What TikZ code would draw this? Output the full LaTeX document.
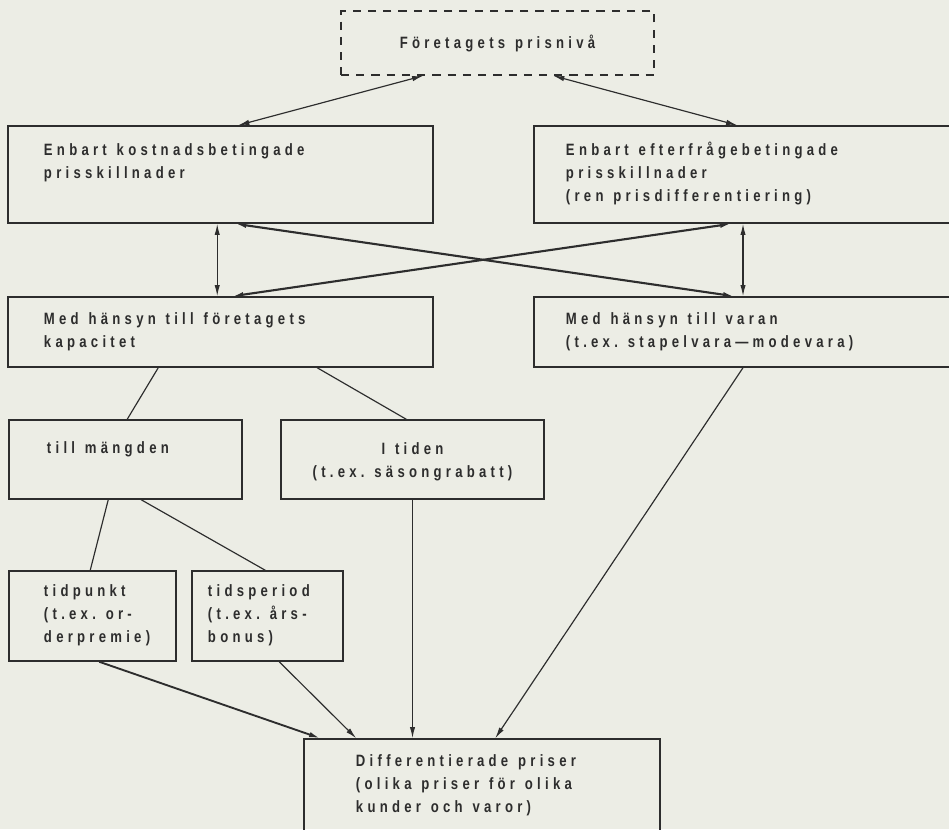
\documentclass[tikz,border=0pt]{standalone}
\usepackage{fontspec}
\usetikzlibrary{calc,arrows.meta}
\newfontfamily\scanfont{Liberation Sans}[UprightFont={* Bold},FakeStretch=0.8,LetterSpace=26,WordSpace=1.6]

\definecolor{paper}{RGB}{236,237,229}
\definecolor{ink}{RGB}{45,45,45}

\tikzset{
  box/.style={draw=ink,line width=1.3pt,rectangle,inner ysep=0pt,align=left,
    execute at begin node={\spaceskip=0.6em\relax\xspaceskip=0.6em\relax}},
  link/.style={draw=ink,line width=1pt},
  dbl/.style={link,{Latex[length=9.5pt,width=4.5pt]}-{Latex[length=9.5pt,width=4.5pt]}},
  dblthick/.style={dbl,line width=1.8pt},
  to/.style={link,-{Latex[length=9.5pt,width=4.5pt]}},
}

\begin{document}
\begin{tikzpicture}[x=0.03cm,y=-0.03cm,text=ink,
  font=\scanfont\fontsize{14}{20}\selectfont]

% Paper
\useasboundingbox (0,0) rectangle (949,829);
\fill[paper] (0,0) rectangle (949,829);

% Top level
\node[box,dashed,dash pattern=on 7pt off 6pt,inner sep=0pt,
  minimum width=9.39cm,minimum height=1.92cm] (top) at (497.5,43) {Företagets prisnivå};

% Second level
\node[box,inner xsep=1.08cm,text width=10.59cm,text height=0.87cm,text depth=2.04cm]
  (kost) at (220.5,174.5) {Enbart kostnadsbetingade\\prisskillnader};
\node[box,inner xsep=0.96cm,text width=10.62cm,text height=0.87cm,text depth=2.04cm]
  (efter) at (743,174.5) {Enbart efterfrågebetingade\\prisskillnader\\(ren prisdifferentiering)};

% Third level
\node[box,inner xsep=1.08cm,text width=10.59cm,text height=0.81cm,text depth=1.29cm]
  (kap) at (220.5,332) {Med hänsyn till företagets\\kapacitet};
\node[box,inner xsep=0.96cm,text width=10.62cm,text height=0.81cm,text depth=1.29cm]
  (varan) at (743,332) {Med hänsyn till varan\\(t.ex. stapelvara—modevara)};

% Capacity branches
\node[box,inner xsep=1.14cm,text width=4.71cm,text height=0.99cm,text depth=1.38cm]
  (mangd) at (125.5,459.5) {till mängden};
\node[box,align=center,inner xsep=0.3cm,text width=7.29cm,text height=1.02cm,text depth=1.35cm]
  (tiden) at (412.5,459.5) {I tiden\\(t.ex. säsongrabatt)};
\node[box,inner xsep=1.05cm,text width=2.91cm,text height=0.75cm,text depth=1.95cm]
  (punkt) at (92.5,616) {tidpunkt\\(t.ex. or-\\derpremie)};
\node[box,inner xsep=0.48cm,text width=3.57cm,text height=0.75cm,text depth=1.95cm]
  (period) at (267.5,616) {tidsperiod\\(t.ex. års-\\bonus)};

% Result
\node[box,inner xsep=1.56cm,text width=7.56cm,text height=0.81cm,text depth=2.07cm]
  (diff) at (482,787) {Differentierade priser\\(olika priser för olika\\kunder och varor)};

% Connectors
\draw[dbl] ($(top.south west)+(83,0)$) -- ($(kost.north west)+(231,0)$);
\draw[dbl] ($(top.south west)+(213,0)$) -- ($(efter.north west)+(204,0)$);
\draw[dbl] ($(kost.south west)+(210,0)$) -- ($(kap.north west)+(210,0)$);
\draw[dbl] (efter.south) -- (varan.north);
\draw[dblthick] ($(kost.south west)+(228,0)$) -- ($(varan.north west)+(201,0)$);
\draw[dblthick] ($(efter.south west)+(198,0)$) -- ($(kap.north west)+(225,0)$);

\draw[link] ($(kap.south west)+(151,0)$) -- ($(mangd.north west)+(119,0)$);
\draw[link] ($(kap.south west)+(310,0)$) -- ($(tiden.north west)+(126,0)$);
\draw[link] ($(mangd.south west)+(100,0)$) -- ($(punkt.north west)+(82,0)$);
\draw[link] ($(mangd.south west)+(133,0)$) -- ($(period.north west)+(74,0)$);

\draw[to,line width=1.6pt] ($(punkt.south west)+(91,0)$) -- ($(diff.north west)+(17,0)$);
\draw[to] ($(period.south west)+(88,0)$) -- ($(diff.north west)+(53,0)$);
\draw[to] (tiden.south) -- (tiden.south |- diff.north);
\draw[to] (varan.south) -- ($(diff.north west)+(192,0)$);

\end{tikzpicture}
\end{document}
